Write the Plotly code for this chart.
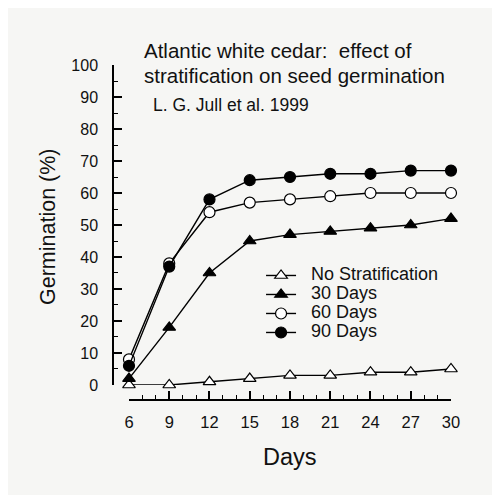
import plotly.graph_objects as go

days = [6, 9, 12, 15, 18, 21, 24, 27, 30]
no_strat = [0, 0, 1, 2, 3, 3, 4, 4, 5]
days_30 = [2, 18, 35, 45, 47, 48, 49, 50, 52]
days_60 = [8, 38, 54, 57, 58, 59, 60, 60, 60]
days_90 = [6, 37, 58, 64, 65, 66, 66, 67, 67]

FONT = "Liberation Sans, Arial, Helvetica, sans-serif"
BG = "#f6f6f4"


def series(name, values, symbol, fill):
    # bigger legend text through a span, legend font kept small for tight rows
    label = '<span style="font-size:18px">\u00a0\u00a0' + name + '</span>'
    return go.Scatter(
        x=days, y=values, name=label, mode="lines+markers",
        line=dict(color="black", width=1.4),
        marker=dict(symbol=symbol, size=11, color=fill,
                    line=dict(color="black", width=1.2)),
        cliponaxis=False,
    )


def note(text, x, y, size):
    return dict(text=text, xref="paper", yref="paper", x=x, y=y,
                xanchor="left", yanchor="top", align="left",
                showarrow=False, font=dict(size=size))


fig = go.Figure()
fig.add_trace(series("No Stratification", no_strat, "triangle-up", "white"))
fig.add_trace(series("30 Days", days_30, "triangle-up", "black"))
fig.add_trace(series("60 Days", days_60, "circle", "white"))
fig.add_trace(series("90 Days", days_90, "circle", "black"))

fig.update_layout(
    width=500,
    height=495,
    margin=dict(l=105, r=57, t=57, b=103),
    paper_bgcolor=BG,
    plot_bgcolor=BG,
    font=dict(family=FONT, color="#111", size=16),
    showlegend=True,
    legend=dict(
        x=0.438, y=0.415, xanchor="left", yanchor="top",
        bgcolor="rgba(0,0,0,0)", font=dict(size=12),
        tracegroupgap=0,
    ),
    xaxis=dict(
        domain=[0.0473, 1], range=[6, 30], anchor="free", position=0,
        showline=True, linecolor="black", linewidth=1.5,
        ticks="inside", ticklen=8, tickwidth=1.5, tickcolor="black",
        tick0=6, dtick=3, showgrid=False, zeroline=False,
        tickfont=dict(size=16.5), ticklabelstandoff=7,
        minor=dict(dtick=1, ticks="inside", ticklen=4, tickwidth=1.2,
                   tickcolor="black", showgrid=False),
    ),
    yaxis=dict(
        domain=[0.0448, 1], range=[0, 100], anchor="free", position=0,
        showline=True, linecolor="black", linewidth=1.5,
        ticks="inside", ticklen=8, tickwidth=1.5, tickcolor="black",
        dtick=10, showgrid=False, zeroline=False,
        tickfont=dict(size=16), ticklabelstandoff=11,
        minor=dict(dtick=5, ticks="inside", ticklen=4, tickwidth=1.2,
                   tickcolor="black", showgrid=False),
    ),
    annotations=[
        note("Atlantic white cedar:  effect of", 0.085, 1.0836, 20.5),
        note("stratification on seed germination", 0.085, 1.009, 20.5),
        note("L. G. Jull et al. 1999", 0.112, 0.915, 17.5),
        dict(text="Days", xref="paper", yref="paper",
             x=(290 - 113) / 338, y=(400 - 457) / 335,
             xanchor="center", yanchor="middle", showarrow=False,
             font=dict(size=23.5)),
        dict(text="Germination (%)", xref="paper", yref="paper",
             x=(48 - 113) / 338, y=(400 - 227) / 335, textangle=-90,
             xanchor="center", yanchor="middle", showarrow=False,
             font=dict(size=21.5)),
    ],
)

fig.write_html("out.html")
